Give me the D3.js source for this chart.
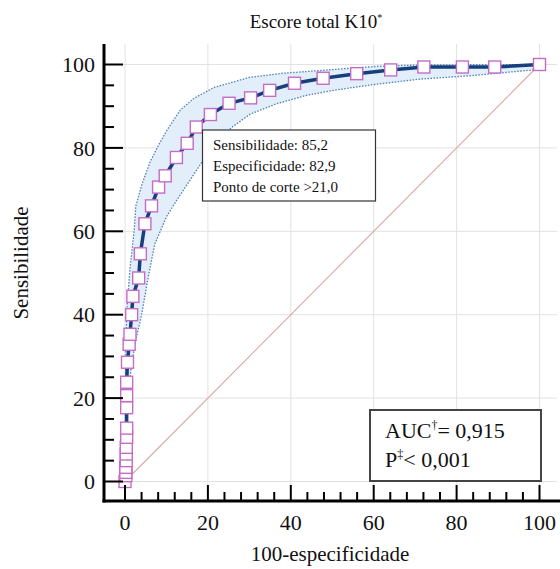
<!doctype html>
<html>
<head>
<meta charset="utf8">
<title>Escore total K10</title>
<script src="https://cdn.jsdelivr.net/npm/d3@7"></script>
<style>
  body { margin: 0; background: #fff; }
  text { font-family: "Liberation Serif", "Times New Roman", serif; fill: #111; }
</style>
</head>
<body>
<div id="chart"></div>
<script>
"use strict";
// ROC curve points: x = 100-especificidade, y = sensibilidade
const rocX = [0, 0.2, 0.2, 0.2, 0.3, 0.3, 0.3, 0.4, 0.4, 0.4, 0.4, 0.4, 0.6, 1.0, 1.2, 1.6, 1.9, 3.3, 3.7, 4.8,
              6.4, 8.1, 9.7, 12.4, 15.0, 17.2, 20.6, 25.1, 30.3, 34.9, 40.9, 47.8, 55.9, 64.1, 72.1, 81.4, 89.2, 100];
const rocY = [0, 1.4, 2.2, 3.4, 5.0, 6.6, 8.2, 10.6, 12.8, 17.7, 20.6, 23.8, 28.6, 32.9, 35.3, 40.0, 44.4, 48.8, 54.6, 61.8,
              66.1, 70.6, 73.3, 77.7, 81.1, 85.0, 88.0, 90.7, 92.0, 93.8, 95.5, 96.7, 97.8, 98.7, 99.4, 99.4, 99.4, 100];

// 95% confidence band
const upperX = [0, 0.1, 0.2, 0.5, 1.2, 2.2, 2.6, 4.0, 6.0, 8.0, 10.1, 13.3, 16.5, 21.5, 30.0, 38.0, 45.0, 54.3, 61.5, 72.0, 100];
const upperY = [0, 20, 33, 42, 51, 60, 66, 71, 76.5, 80.5, 84.2, 89.0, 91.8, 94.5, 96.9, 97.9, 98.4, 99.1, 99.6, 99.9, 100];
const lowerX = [0.2, 0.3, 0.6, 1.2, 2.4, 4.0, 5.6, 7.2, 10.0, 12.5, 15.5, 18.5, 21.5, 25.7, 30.2, 36.6, 43.8, 50.3, 60.0, 71.2, 83.2, 98.5, 100];
const lowerY = [0, 10, 16, 25, 33, 40, 49, 57, 63.5, 67.5, 72, 76.5, 80.5, 84.9, 88.1, 90.6, 92.6, 93.8, 95.2, 96.5, 97.3, 98.7, 100];

const majorTicks = [0, 20, 40, 60, 80, 100];
const xMinor = d3.range(0, 101, 4);
const yMinor = d3.range(0, 101, 5);

const annotLines = ["Sensibilidade: 85,2", "Especificidade: 82,9", "Ponto de corte >21,0"];

const W = 560, H = 569;
const svg = d3.select("#chart").append("svg").attr("width", W).attr("height", H);

const x = d3.scaleLinear().domain([0, 100]).range([125, 539.5]);
const y = d3.scaleLinear().domain([0, 100]).range([481.5, 64.5]);

const axisX = 104, axisY = 501, topY = 44, rightX = 557;

// grid
svg.append("g").selectAll("line").data(majorTicks).join("line")
  .attr("x1", d => x(d)).attr("x2", d => x(d))
  .attr("y1", topY).attr("y2", axisY)
  .attr("stroke", "#e2e2e2").attr("stroke-width", 1);
svg.append("g").selectAll("line").data(majorTicks).join("line")
  .attr("x1", axisX).attr("x2", rightX)
  .attr("y1", d => y(d)).attr("y2", d => y(d))
  .attr("stroke", "#e2e2e2").attr("stroke-width", 1);

// confidence band
const upper = upperX.map((v, i) => [v, upperY[i]]);
const lower = lowerX.map((v, i) => [v, lowerY[i]]);
const line = d3.line().x(d => x(d[0])).y(d => y(d[1]));
svg.append("path")
  .attr("d", line(upper.concat(lower.slice().reverse())) + "Z")
  .attr("fill", "#e2effa").attr("stroke", "none");
[upper, lower].forEach(b => {
  svg.append("path").attr("d", line(b))
    .attr("fill", "none").attr("stroke", "#4d7fb3")
    .attr("stroke-width", 1.3).attr("stroke-dasharray", "1.5,1.5");
});

// diagonal reference
svg.append("line")
  .attr("x1", x(0)).attr("y1", y(0)).attr("x2", x(100)).attr("y2", y(100))
  .attr("stroke", "#d8a8a4").attr("stroke-width", 1.1);

// ROC curve
const roc = rocX.map((v, i) => [v, rocY[i]]);
svg.append("path").attr("d", line(roc))
  .attr("fill", "none").attr("stroke", "#173f7c").attr("stroke-width", 3.5);

const bs = 12;
svg.append("g").selectAll("rect").data(roc).join("rect")
  .attr("x", d => x(d[0]) - bs / 2).attr("y", d => y(d[1]) - bs / 2)
  .attr("width", bs).attr("height", bs)
  .attr("fill", "#fff").attr("stroke", "#c46cc8").attr("stroke-width", 1.4);

// axes
svg.append("line").attr("x1", axisX).attr("x2", axisX).attr("y1", topY).attr("y2", axisY + 1.5)
  .attr("stroke", "#000").attr("stroke-width", 3);
svg.append("line").attr("x1", axisX - 1.5).attr("x2", W).attr("y1", axisY).attr("y2", axisY)
  .attr("stroke", "#000").attr("stroke-width", 3);

svg.append("g").selectAll("line").data(yMinor).join("line")
  .attr("x1", axisX).attr("x2", d => axisX + (d % 20 === 0 ? 19 : 10))
  .attr("y1", d => y(d)).attr("y2", d => y(d))
  .attr("stroke", "#000").attr("stroke-width", 2);
svg.append("g").selectAll("line").data(xMinor).join("line")
  .attr("x1", d => x(d)).attr("x2", d => x(d))
  .attr("y1", axisY).attr("y2", d => axisY - (d % 20 === 0 ? 16 : 9))
  .attr("stroke", "#000").attr("stroke-width", 2);

svg.append("g").selectAll("text").data(majorTicks).join("text")
  .attr("x", 95).attr("y", d => y(d)).attr("dy", "0.35em")
  .attr("text-anchor", "end").attr("font-size", 22).text(d => d);
svg.append("g").selectAll("text").data(majorTicks).join("text")
  .attr("x", d => x(d)).attr("y", 530)
  .attr("text-anchor", "middle").attr("font-size", 22).text(d => d);

// labels
const title = svg.append("text").attr("x", 316).attr("y", 28)
  .attr("text-anchor", "middle").attr("font-size", 19).text("Escore total K10");
title.append("tspan").attr("font-size", 10).attr("dy", -7).text("*");

svg.append("text").attr("x", 330).attr("y", 561)
  .attr("text-anchor", "middle").attr("font-size", 21).text("100-especificidade");
svg.append("text").attr("transform", "translate(28,263) rotate(-90)")
  .attr("text-anchor", "middle").attr("font-size", 21).text("Sensibilidade");

// annotation box
svg.append("rect").attr("x", 202.5).attr("y", 130).attr("width", 173).attr("height", 71)
  .attr("fill", "#fff").attr("stroke", "#333").attr("stroke-width", 1.2);
svg.append("g").selectAll("text").data(annotLines).join("text")
  .attr("x", 213).attr("y", (d, i) => 150 + i * 21)
  .attr("font-size", 15).text(d => d);

// AUC box
svg.append("rect").attr("x", 370).attr("y", 410).attr("width", 171).attr("height", 71)
  .attr("fill", "#fff").attr("stroke", "#444").attr("stroke-width", 2);
const auc = svg.append("text").attr("x", 385).attr("y", 438).attr("font-size", 22).text("AUC");
auc.append("tspan").attr("font-size", 12).attr("dy", -9).text("†");
auc.append("tspan").attr("dy", 9).text("= 0,915");
const p = svg.append("text").attr("x", 385).attr("y", 467).attr("font-size", 22).text("P");
p.append("tspan").attr("font-size", 12).attr("dy", -9).text("‡");
p.append("tspan").attr("dy", 9).text("< 0,001");
</script>
</body>
</html>
